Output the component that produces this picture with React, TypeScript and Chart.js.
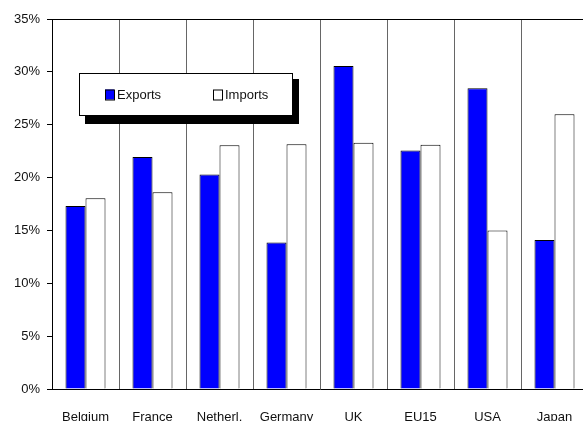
import React, { useEffect, useRef } from "react";
import { Chart, registerables } from "chart.js";

Chart.register(...registerables);

// Trade shares by country, in percent
const countries = ["Belgium", "France", "Netherl.", "Germany", "UK", "EU15", "USA", "Japan"];
const exportsShare = [17.3, 21.95, 20.3, 13.85, 30.55, 22.55, 28.45, 14.1];
const importsShare = [18.05, 18.6, 23.05, 23.15, 23.3, 23.1, 15.0, 26.0];
const seriesNames = ["Exports", "Imports"];
const seriesFills = ["#0000ff", "#ffffff"];

const FONT_FAMILY = "'Liberation Sans', Arial, Helvetica, sans-serif";
const TEXT_COLOR = "#111111";

// Top frame line plus a boxed legend with a drop shadow, drawn inside the plot
const frameAndLegend = {
  id: "frameAndLegend",
  afterDraw(chart: any) {
    const { ctx, chartArea } = chart;
    const { left, top, right } = chartArea;
    ctx.save();

    // top border of the plot area
    ctx.strokeStyle = "#000";
    ctx.lineWidth = 1;
    ctx.beginPath();
    ctx.moveTo(left, top + 0.5);
    ctx.lineTo(right, top + 0.5);
    ctx.stroke();

    // legend box
    const bx = left + 27;
    const by = top + 54;
    const bw = 214;
    const bh = 43;
    ctx.fillStyle = "#000";
    ctx.fillRect(bx + 6, by + 6, bw, bh + 2);
    ctx.fillStyle = "#fff";
    ctx.fillRect(bx, by, bw, bh);
    ctx.strokeStyle = "#000";
    ctx.strokeRect(bx + 0.5, by + 0.5, bw - 1, bh - 1);

    ctx.font = `13px ${FONT_FAMILY}`;
    ctx.textBaseline = "middle";
    ctx.textAlign = "left";
    const itemX = [bx + 26, bx + 134];
    const cy = by + 22;
    chart.data.datasets.forEach((ds: any, i: number) => {
      const sx = itemX[i];
      ctx.fillStyle = ds.backgroundColor;
      ctx.fillRect(sx, cy - 5.5, 9, 10);
      ctx.strokeStyle = "#000";
      ctx.strokeRect(sx + 0.5, cy - 5, 9, 10);
      ctx.fillStyle = TEXT_COLOR;
      ctx.fillText(ds.label, sx + 12, cy);
    });

    ctx.restore();
  },
};

export default function App() {
  const canvasRef = useRef<HTMLCanvasElement | null>(null);

  useEffect(() => {
    const canvas = canvasRef.current;
    if (!canvas) return;

    const chart = new Chart(canvas, {
      type: "bar",
      data: {
        labels: countries,
        datasets: [
          {
            label: seriesNames[0],
            data: exportsShare,
            backgroundColor: seriesFills[0],
            borderColor: "#000",
            borderWidth: 1,
            categoryPercentage: 40 / 67,
            barPercentage: 1,
          },
          {
            label: seriesNames[1],
            data: importsShare,
            backgroundColor: seriesFills[1],
            borderColor: "#000",
            borderWidth: 1,
            categoryPercentage: 40 / 67,
            barPercentage: 1,
          },
        ],
      },
      options: {
        animation: false,
        responsive: false,
        devicePixelRatio: 1,
        layout: { padding: { top: 19, right: 12, left: 0, bottom: 0 } },
        plugins: {
          legend: { display: false },
          tooltip: { enabled: false },
        },
        scales: {
          x: {
            grid: {
              color: "#666666",
              lineWidth: 1,
              drawTicks: false,
              offset: true,
            },
            border: { color: "#000", width: 1 },
            ticks: {
              font: { family: FONT_FAMILY, size: 13 },
              color: TEXT_COLOR,
              padding: 21,
              maxRotation: 0,
              autoSkip: false,
            },
            afterFit: (scale: any) => {
              scale.height = 32;
            },
          },
          y: {
            min: 0,
            max: 35,
            ticks: {
              stepSize: 5,
              callback: (v: any) => `${v}%`,
              padding: 7,
              font: { family: FONT_FAMILY, size: 13 },
              color: TEXT_COLOR,
            },
            grid: {
              drawOnChartArea: false,
              drawTicks: true,
              tickLength: 5,
              color: "#000",
            },
            border: { color: "#000", width: 1 },
            afterFit: (scale: any) => {
              scale.width = 52;
            },
          },
        },
      },
      plugins: [frameAndLegend],
    });

    return () => chart.destroy();
  }, []);

  return (
    <div
      style={{
        position: "absolute",
        left: 0,
        top: 0,
        width: 583,
        height: 421,
        overflow: "hidden",
        background: "#fff",
      }}
    >
      <canvas ref={canvasRef} width={600} height={421} style={{ display: "block" }} />
    </div>
  );
}
